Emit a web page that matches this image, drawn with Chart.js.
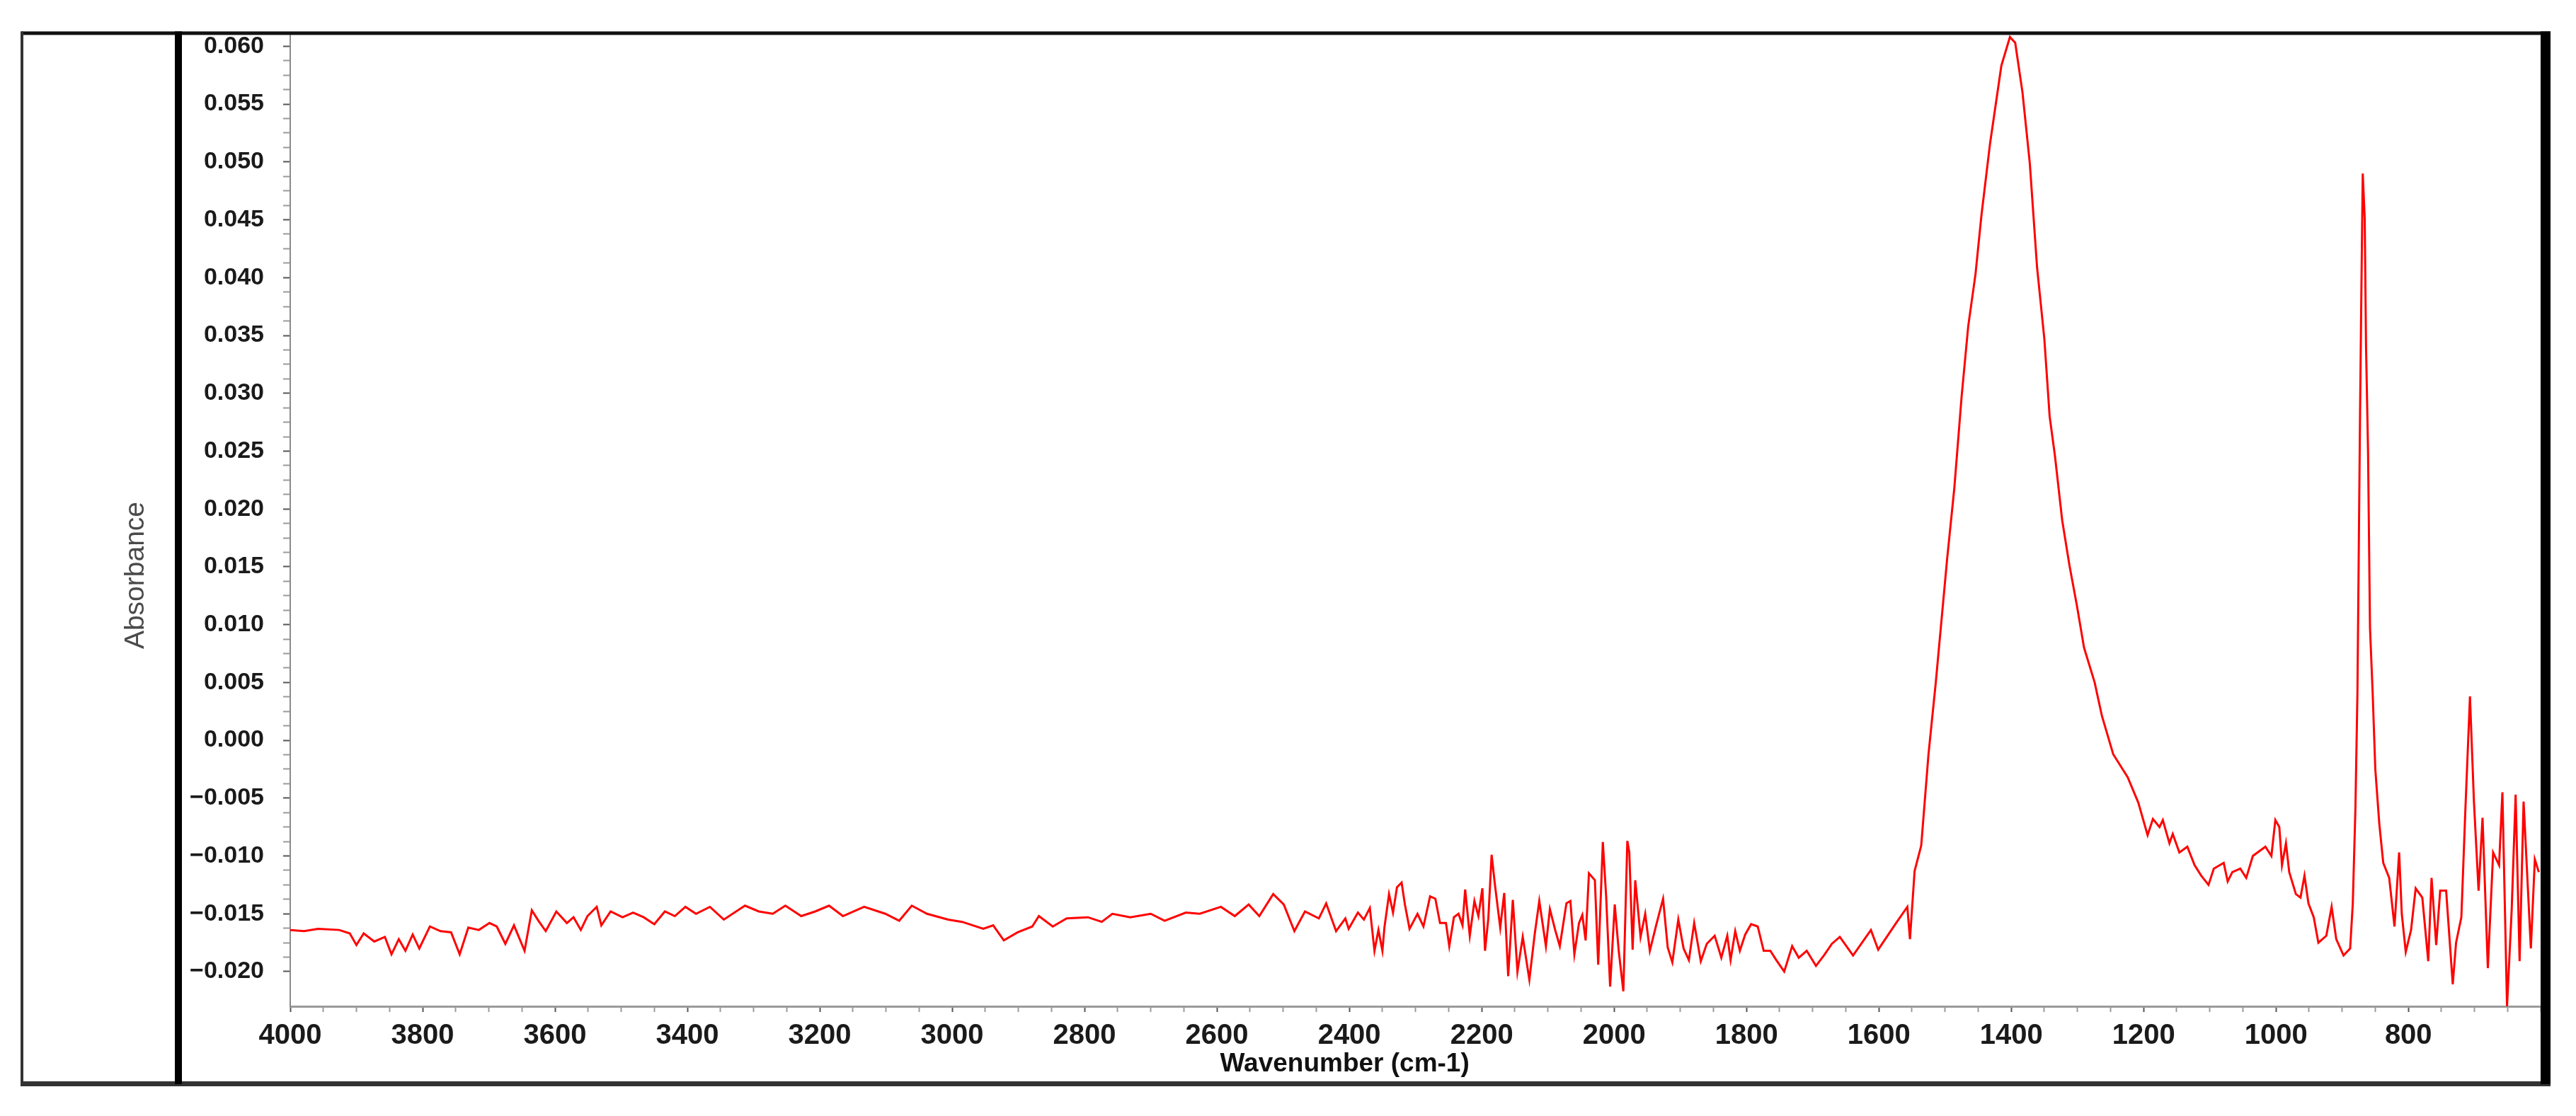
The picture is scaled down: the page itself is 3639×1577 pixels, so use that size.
<!DOCTYPE html>
<html>
<head>
<meta charset="utf-8">
<script src="https://cdn.jsdelivr.net/npm/chart.js@4.4.1/dist/chart.umd.min.js"></script>
<style>
  html, body { margin: 0; padding: 0; background: #fff; }
  canvas { display: block; }
</style>
</head>
<body>
<canvas id="ftirChart" width="3639" height="1577"></canvas>
<script>
// FTIR absorbance spectrum
const wavenumbers = [
  4000, 3979, 3958, 3926, 3910, 3900, 3889, 3873, 3857, 3847, 3836, 3826, 3815, 3805, 3789, 3773,
  3757, 3744, 3731, 3715, 3699, 3688, 3675, 3662, 3646, 3635, 3625, 3614, 3598, 3582, 3572, 3561,
  3551, 3537, 3530, 3516, 3498, 3482, 3466, 3450, 3434, 3419, 3403, 3387, 3366, 3345, 3313, 3292,
  3271, 3252, 3228, 3207, 3186, 3165, 3133, 3101, 3080, 3061, 3038, 3006, 2985, 2953, 2938, 2922,
  2901, 2879, 2869, 2848, 2827, 2795, 2774, 2758, 2731, 2700, 2679, 2647, 2626, 2594, 2573, 2552,
  2536, 2515, 2499, 2483, 2467, 2446, 2435, 2420, 2406, 2401, 2394, 2387, 2378, 2369, 2362, 2356,
  2350, 2347, 2340, 2334, 2328, 2321, 2316, 2309, 2297, 2288, 2278, 2270, 2263, 2254, 2249, 2242,
  2235, 2229, 2225, 2218, 2211, 2205, 2199, 2195, 2190, 2185, 2180, 2172, 2166, 2160, 2153, 2146,
  2138, 2128, 2120, 2113, 2103, 2097, 2089, 2082, 2072, 2066, 2060, 2053, 2048, 2043, 2038, 2029,
  2024, 2017, 2012, 2006, 1999, 1993, 1986, 1980, 1977, 1972, 1968, 1960, 1953, 1946, 1936, 1926,
  1919, 1912, 1903, 1895, 1887, 1879, 1869, 1860, 1848, 1838, 1829, 1824, 1817, 1810, 1802, 1793,
  1783, 1774, 1764, 1755, 1743, 1731, 1721, 1709, 1695, 1683, 1671, 1659, 1639, 1612, 1601, 1574,
  1557, 1553, 1546, 1536, 1525, 1514, 1497, 1486, 1475, 1465, 1454, 1445, 1432, 1415, 1402, 1394,
  1383, 1372, 1361, 1350, 1342, 1334, 1323, 1312, 1301, 1290, 1274, 1263, 1246, 1224, 1208, 1194,
  1186, 1176, 1171, 1161, 1156, 1146, 1134, 1123, 1113, 1102, 1094, 1079, 1073, 1066, 1054, 1045,
  1035, 1016, 1007, 1001, 995, 991, 985, 980, 970, 963, 957, 951, 943, 936, 924, 916,
  909, 898, 888, 884, 880, 877, 875, 873, 871, 869, 866, 864, 861, 858, 854, 850,
  844, 838, 829, 821, 814, 810, 804, 796, 789, 779, 770, 765, 758, 752, 743, 733,
  728, 720, 714, 707, 701, 694, 688, 680, 672, 663, 658, 651, 644, 638, 632, 626,
  615, 609, 603
];

const absorbance = [
  -0.0164, -0.0165, -0.0163, -0.0164, -0.0167, -0.0177, -0.0167, -0.0174, -0.0170, -0.0185, -0.0172, -0.0182, -0.0168, -0.0180, -0.0161, -0.0165,
  -0.0166, -0.0185, -0.0162, -0.0164, -0.0158, -0.0161, -0.0176, -0.0160, -0.0182, -0.0147, -0.0156, -0.0165, -0.0148, -0.0158, -0.0153, -0.0164,
  -0.0152, -0.0144, -0.0160, -0.0148, -0.0153, -0.0149, -0.0153, -0.0159, -0.0148, -0.0152, -0.0144, -0.0150, -0.0144, -0.0155, -0.0143, -0.0148,
  -0.0150, -0.0143, -0.0152, -0.0148, -0.0143, -0.0152, -0.0144, -0.0150, -0.0156, -0.0143, -0.0150, -0.0155, -0.0157, -0.0163, -0.0160, -0.0173,
  -0.0166, -0.0161, -0.0152, -0.0161, -0.0154, -0.0153, -0.0157, -0.0150, -0.0153, -0.0150, -0.0156, -0.0149, -0.0150, -0.0144, -0.0152, -0.0142,
  -0.0152, -0.0133, -0.0142, -0.0165, -0.0148, -0.0154, -0.0141, -0.0165, -0.0154, -0.0163, -0.0156, -0.0149, -0.0155, -0.0145, -0.0182, -0.0164,
  -0.0182, -0.0162, -0.0133, -0.0149, -0.0127, -0.0123, -0.0142, -0.0163, -0.0150, -0.0161, -0.0135, -0.0137, -0.0158, -0.0158, -0.0178, -0.0153,
  -0.0150, -0.0160, -0.0129, -0.0169, -0.0139, -0.0152, -0.0128, -0.0182, -0.0154, -0.0099, -0.0125, -0.0162, -0.0132, -0.0204, -0.0138, -0.0200,
  -0.0170, -0.0207, -0.0168, -0.0139, -0.0178, -0.0146, -0.0164, -0.0178, -0.0141, -0.0139, -0.0185, -0.0158, -0.0151, -0.0173, -0.0115, -0.0121,
  -0.0194, -0.0088, -0.0135, -0.0213, -0.0142, -0.0182, -0.0217, -0.0087, -0.0097, -0.0181, -0.0121, -0.0170, -0.0150, -0.0182, -0.0159, -0.0137,
  -0.0179, -0.0192, -0.0155, -0.0180, -0.0190, -0.0158, -0.0191, -0.0176, -0.0169, -0.0188, -0.0169, -0.0190, -0.0165, -0.0182, -0.0168, -0.0159,
  -0.0161, -0.0182, -0.0182, -0.0190, -0.0200, -0.0178, -0.0188, -0.0182, -0.0195, -0.0186, -0.0176, -0.0170, -0.0186, -0.0164, -0.0181, -0.0158,
  -0.0144, -0.0172, -0.0113, -0.0091, -0.0012, 0.0050, 0.0156, 0.0218, 0.0297, 0.0358, 0.0403, 0.0454, 0.0516, 0.0583, 0.0608, 0.0603,
  0.0560, 0.0499, 0.0409, 0.0347, 0.0280, 0.0246, 0.0190, 0.0151, 0.0117, 0.0080, 0.0050, 0.0021, -0.0012, -0.0032, -0.0054, -0.0082,
  -0.0068, -0.0075, -0.0069, -0.0089, -0.0081, -0.0097, -0.0092, -0.0108, -0.0117, -0.0125, -0.0111, -0.0106, -0.0122, -0.0114, -0.0111, -0.0119,
  -0.0100, -0.0092, -0.0100, -0.0069, -0.0075, -0.0108, -0.0089, -0.0114, -0.0133, -0.0136, -0.0117, -0.0141, -0.0153, -0.0175, -0.0169, -0.0144,
  -0.0172, -0.0186, -0.0180, -0.0141, -0.0058, 0.0041, 0.0163, 0.0285, 0.0390, 0.0490, 0.0451, 0.0340, 0.0251, 0.0097, 0.0041, -0.0025,
  -0.0072, -0.0106, -0.0119, -0.0161, -0.0097, -0.0150, -0.0183, -0.0164, -0.0128, -0.0136, -0.0191, -0.0119, -0.0177, -0.0130, -0.0130, -0.0211,
  -0.0175, -0.0153, -0.0061, 0.0038, -0.0053, -0.0130, -0.0067, -0.0197, -0.0097, -0.0108, -0.0045, -0.0230, -0.0147, -0.0047, -0.0191, -0.0053,
  -0.0180, -0.0103, -0.0114
];

const xTickLabels = [4000, 3800, 3600, 3400, 3200, 3000, 2800, 2600, 2400, 2200, 2000, 1800, 1600, 1400, 1200, 1000, 800];
const yTickLabels = [-0.020, -0.015, -0.010, -0.005, 0.000, 0.005, 0.010, 0.015, 0.020, 0.025, 0.030, 0.035, 0.040, 0.045, 0.050, 0.055, 0.060];

const FONT = '"Liberation Sans", Arial, Helvetica, sans-serif';

function isMajor(list, v) {
    return list.some(m => Math.abs(m - v) < 1e-7);
}

// major ticks plus small in-between ticks, like the instrument software draws
function xTicksWithMinor() {
    const out = [];
    for (let v = 4000; v >= 600; v -= 50) out.push({ value: v });
    return out;
}

function yTicksWithMinor() {
    const out = [];
    for (let i = 0; i < yTickLabels.length; i++) {
        out.push({ value: yTickLabels[i] });
        if (i < yTickLabels.length - 1) {
            const step = (yTickLabels[i + 1] - yTickLabels[i]) / 4;
            for (let k = 1; k < 4; k++) out.push({ value: yTickLabels[i] + step * k });
        }
    }
    return out;
}

// frame lines and axis titles placed the way the scanned figure has them
const figureFrame = {
    id: 'figureFrame',
    afterDraw(chart) {
        const ctx = chart.ctx;
        const area = chart.chartArea;
        ctx.save();

        ctx.fillStyle = '#111';
        ctx.fillRect(30, area.top - 3, area.right - 30 + 10, 5);      // top edge
        ctx.fillStyle = '#333';
        ctx.fillRect(29, area.top - 3, 4, 1535 - area.top);           // left edge
        ctx.fillRect(29, 1528, area.right - 29 + 10, 7);              // bottom edge
        ctx.fillStyle = '#000';
        ctx.fillRect(247, area.top - 3, 10, 1535 - area.top);          // separator
        ctx.fillRect(area.right - 4, area.top - 3, 14, 1535 - area.top); // right edge

        ctx.fillStyle = '#111';
        ctx.font = 'bold 37px ' + FONT;
        ctx.textAlign = 'center';
        ctx.textBaseline = 'middle';
        ctx.fillText('Wavenumber (cm-1)', area.left + (area.right - area.left) * 0.468, area.bottom + 82);

        ctx.translate(192, area.top + (area.bottom - area.top) * 0.557);
        ctx.rotate(-Math.PI / 2);
        ctx.fillStyle = '#4a4a4a';
        ctx.font = '39px ' + FONT;
        ctx.fillText('Absorbance', 0, 0);
        ctx.restore();
    }
};

const points = wavenumbers.map((w, i) => ({ x: w, y: absorbance[i] }));

new Chart(document.getElementById('ftirChart').getContext('2d'), {
    type: 'line',
    data: {
        datasets: [{
            label: 'Absorbance',
            data: points,
            borderColor: 'rgb(255, 0, 0)',
            borderWidth: 3,
            pointRadius: 0,
            tension: 0,
            fill: false
        }]
    },
    options: {
        responsive: false,
        animation: false,
        devicePixelRatio: 1,
        layout: {
            padding: { left: 0, right: 46, top: 37, bottom: 0 }
        },
        plugins: {
            legend: { display: false },
            tooltip: { enabled: false }
        },
        scales: {
            x: {
                type: 'linear',
                reverse: true,
                min: 596,
                max: 4000,
                afterFit: function (scale) { scale.height = 155; },
                afterBuildTicks: function (scale) { scale.ticks = xTicksWithMinor(); },
                border: { display: true, color: '#9a9a9a', width: 3 },
                grid: {
                    display: true,
                    drawOnChartArea: false,
                    drawTicks: true,
                    tickLength: 8,
                    tickWidth: 2,
                    tickColor: ctx => (ctx.tick && isMajor(xTickLabels, ctx.tick.value)) ? '#555' : '#9a9a9a'
                },
                ticks: {
                    autoSkip: false,
                    maxRotation: 0,
                    minRotation: 0,
                    padding: 10,
                    color: '#1a1a1a',
                    font: { family: FONT, size: 40, weight: 'bold' },
                    callback: v => isMajor(xTickLabels, v) ? String(Math.round(v)) : ''
                }
            },
            y: {
                type: 'linear',
                min: -0.0230,
                max: 0.0611,
                afterFit: function (scale) { scale.width = 410; },
                afterBuildTicks: function (scale) { scale.ticks = yTicksWithMinor(); },
                border: { display: true, color: '#8a8a8a', width: 2, dash: [3, 4] },
                grid: {
                    display: true,
                    drawOnChartArea: false,
                    drawTicks: true,
                    tickLength: 10,
                    tickWidth: 2,
                    tickColor: ctx => (ctx.tick && isMajor(yTickLabels, ctx.tick.value)) ? '#555' : '#9a9a9a'
                },
                ticks: {
                    autoSkip: false,
                    padding: 27,
                    color: '#1a1a1a',
                    font: { family: FONT, size: 34, weight: 'bold' },
                    callback: function (v) {
                        if (!isMajor(yTickLabels, v)) return '';
                        const s = Math.abs(v).toFixed(3);
                        return v < -1e-9 ? '\u2212' + s : s;
                    }
                }
            }
        }
    },
    plugins: [figureFrame]
});
</script>
</body>
</html>
